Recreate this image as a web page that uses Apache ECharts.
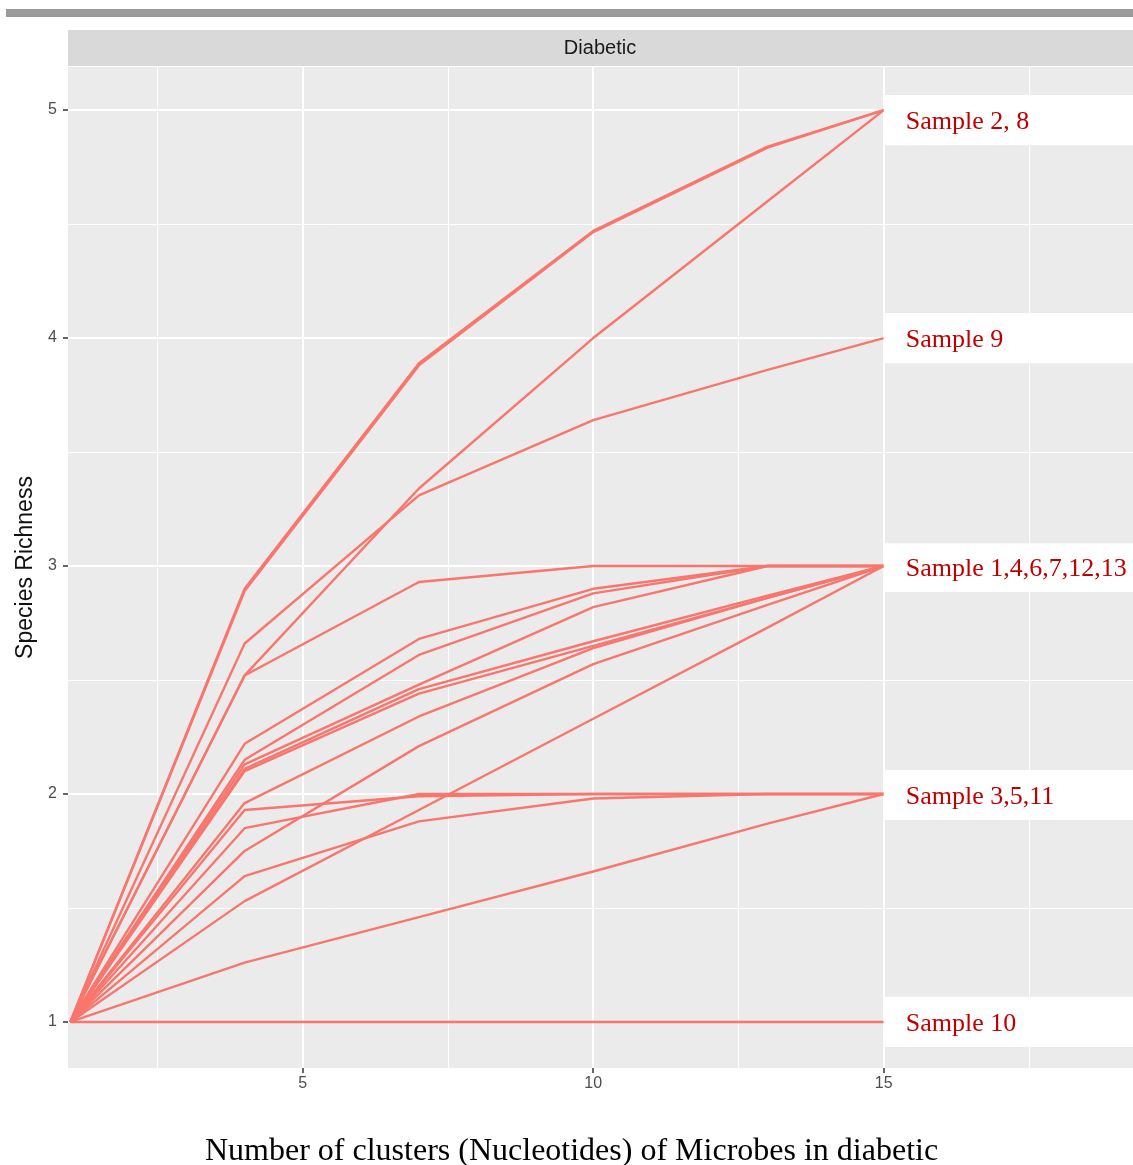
<!DOCTYPE html>
<html>
<head>
<meta charset="utf-8" />
<title>Species Richness - Diabetic</title>
<script src="https://cdn.jsdelivr.net/npm/echarts@6/dist/echarts.min.js"></script>
<style>html,body{margin:0;padding:0;background:#fff;}</style>
</head>
<body>
<div id="main" style="width:1133px;height:1165px;"></div>
<script type="text/javascript">
// number of clusters where richness was computed
var xSteps = [1, 4, 7, 10, 13, 15];

// richness curves, one per line
var curve1 = [1, 2.90, 3.89, 4.47, 4.84, 5];
var curve2 = [1, 2.89, 3.88, 4.465, 4.835, 5];
var curve3 = [1, 2.52, 3.34, 4.00, 4.60, 5];
var curve4 = [1, 2.66, 3.31, 3.64, 3.86, 4];
var curve5 = [1, 2.52, 2.93, 3.00, 3.00, 3];
var curve6 = [1, 2.22, 2.68, 2.90, 3.00, 3];
var curve7 = [1, 2.15, 2.61, 2.88, 3.00, 3];
var curve8 = [1, 2.13, 2.48, 2.82, 3.00, 3];
var curve9 = [1, 2.11, 2.46, 2.67, 2.87, 3];
var curve10 = [1, 2.10, 2.44, 2.65, 2.86, 3];
var curve11 = [1, 1.96, 2.34, 2.64, 2.86, 3];
var curve12 = [1, 1.75, 2.21, 2.57, 2.83, 3];
var curve13 = [1, 1.53, 1.93, 2.33, 2.73, 3];
var curve14 = [1, 1.93, 1.99, 2.00, 2.00, 2];
var curve15 = [1, 1.85, 2.00, 2.00, 2.00, 2];
var curve16 = [1, 1.64, 1.88, 1.98, 2.00, 2];
var curve17 = [1, 1.26, 1.46, 1.66, 1.87, 2];
var curve18 = [1, 1, 1, 1, 1, 1];

var curves = [curve1, curve2, curve3, curve4, curve5, curve6, curve7, curve8, curve9,
	curve10, curve11, curve12, curve13, curve14, curve15, curve16, curve17, curve18];

// axis ticks (major / minor like ggplot)
var xTicks = [5, 10, 15];
var xMinor = [2.5, 7.5, 12.5, 17.5];
var yTicks = [1, 2, 3, 4, 5];
var yMinor = [1.5, 2.5, 3.5, 4.5];

// sample labels on the right, with their y band
var sampleNames = ['Sample 2, 8', 'Sample 9', 'Sample 1,4,6,7,12,13', 'Sample 3,5,11', 'Sample 10'];
var sampleLow = [4.846, 3.89, 2.886, 1.886, 0.89];
var sampleHigh = [5.066, 4.11, 3.10, 2.105, 1.11];

var xMin = 0.96, xMax = 19.29;
var yMin = 0.798, yMax = 5.189;

var lineColor = '#F8766D';
var sans = 'Liberation Sans, Arial, sans-serif';
var serif = 'Liberation Serif, Times New Roman, serif';

var chart = echarts.init(document.getElementById('main'));

var series = [];

// panel grid lines
var gridLines = [];
xTicks.forEach(function (v) { gridLines.push({ xAxis: v, lineStyle: { width: 2 } }); });
xMinor.forEach(function (v) { gridLines.push({ xAxis: v, lineStyle: { width: 1 } }); });
yTicks.forEach(function (v) { gridLines.push({ yAxis: v, lineStyle: { width: 2 } }); });
yMinor.forEach(function (v) { gridLines.push({ yAxis: v, lineStyle: { width: 1 } }); });
series.push({
	type: 'line',
	data: [],
	z: 1,
	silent: true,
	markLine: {
		z: 1,
		silent: true,
		symbol: ['none', 'none'],
		label: { show: false },
		lineStyle: { color: '#ffffff', type: 'solid' },
		emphasis: { disabled: true },
		data: gridLines
	}
});

curves.forEach(function (vals, k) {
	series.push({
		name: 'curve' + (k + 1),
		type: 'line',
		z: 3,
		showSymbol: false,
		silent: true,
		lineStyle: { color: lineColor, width: 2.4 },
		data: xSteps.map(function (x, i) { return [x, vals[i]]; })
	});
});

// white label boxes
series.push({
	type: 'line',
	data: [],
	z: 6,
	silent: true,
	markArea: {
		z: 6,
		silent: true,
		itemStyle: { color: '#ffffff' },
		label: {
			show: true,
			position: 'insideLeft',
			distance: 22,
			offset: [0, 2],
			color: '#c00000',
			fontFamily: serif,
			fontSize: 26
		},
		data: sampleNames.map(function (n, i) {
			return [{ name: n, xAxis: 15, yAxis: sampleLow[i] }, { xAxis: xMax, yAxis: sampleHigh[i] }];
		})
	}
});

var option = {
	animation: false,
	backgroundColor: '#ffffff',
	title: {
		text: 'Number of clusters (Nucleotides) of Microbes in diabetic',
		left: 200,
		top: 1131,
		textStyle: { fontFamily: serif, fontSize: 32, fontWeight: 'normal', color: '#000' }
	},
	graphic: [
		{ type: 'rect', left: 6, top: 9, shape: { width: 1127, height: 8 }, style: { fill: '#9b9b9b' } },
		{ type: 'rect', left: 68, top: 30, shape: { width: 1065, height: 36 }, style: { fill: '#d9d9d9' } },
		{ type: 'text', x: 600, y: 48, style: { text: 'Diabetic', fill: '#1a1a1a', font: '20px ' + sans, align: 'center', verticalAlign: 'middle' } }
	],
	grid: {
		left: 68, right: 0, top: 67, bottom: 97,
		show: true, backgroundColor: '#ebebeb', borderWidth: 0
	},
	xAxis: {
		type: 'value',
		min: xMin, max: xMax,
		axisLine: { show: false },
		splitLine: { show: false },
		axisTick: { show: true, length: 5, customValues: xTicks, lineStyle: { color: '#333', width: 1.5 } },
		axisLabel: { customValues: xTicks, color: '#4d4d4d', fontFamily: sans, fontSize: 16, margin: 8 }
	},
	yAxis: {
		type: 'value',
		min: yMin, max: yMax,
		name: 'Species Richness',
		nameLocation: 'middle',
		nameGap: 31,
		nameTextStyle: { color: '#111', fontFamily: sans, fontSize: 23 },
		axisLine: { show: false },
		splitLine: { show: false },
		axisTick: { show: true, length: 5, customValues: yTicks, lineStyle: { color: '#333', width: 1.5 } },
		axisLabel: { customValues: yTicks, color: '#4d4d4d', fontFamily: sans, fontSize: 16, margin: 11 }
	},
	series: series
};

chart.setOption(option);
</script>
</body>
</html>
